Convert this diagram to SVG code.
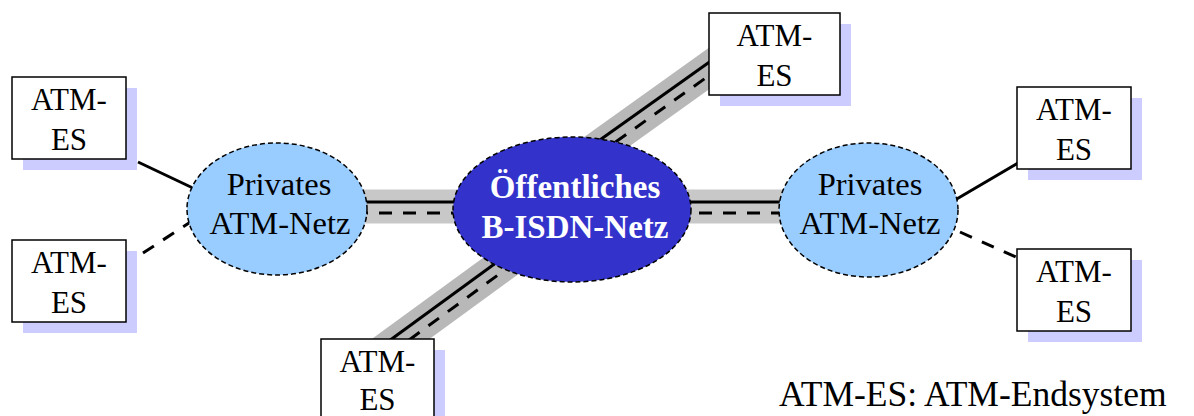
<svg xmlns="http://www.w3.org/2000/svg" width="1194" height="416" viewBox="0 0 1194 416">
<style>
.t{font-family:"Liberation Serif","Times New Roman",serif;font-size:31px;fill:#000;text-anchor:middle}
.nt{font-family:"Liberation Serif","Times New Roman",serif;font-size:32.5px;fill:#000;text-anchor:middle}
.bt{font-family:"Liberation Serif","Times New Roman",serif;font-size:33px;font-weight:bold;fill:#fff;text-anchor:middle}
.box{fill:#fff;stroke:#000;stroke-width:1.5}
.sh{fill:#ccccff}
.pn{fill:#99ccff;stroke:#000;stroke-width:1.5;stroke-dasharray:5 3}
.cn{fill:#3333cc;stroke:#000;stroke-width:1.5;stroke-dasharray:5 3}
.band{stroke:#c8c8c8;stroke-width:34;fill:none}
.bandd{stroke:#b8b8b8;stroke-width:34;fill:none}
.s{stroke:#000;stroke-width:3;fill:none}
.d{stroke:#000;stroke-width:3;fill:none;stroke-dasharray:13 11}
</style>
<g id="connectors">
<line class="band" x1="355" y1="206.5" x2="470" y2="206.5"/>
<line class="band" x1="675" y1="206.5" x2="790" y2="206.5"/>
<line class="bandd" x1="593" y1="151.5" x2="723" y2="58.5"/>
<line class="bandd" x1="513" y1="257" x2="378" y2="355.6"/>
<line class="s" x1="355" y1="202" x2="470" y2="202"/>
<line class="d" x1="355" y1="213" x2="470" y2="213"/>
<line class="s" x1="675" y1="202" x2="790" y2="202"/>
<line class="d" x1="675" y1="213" x2="790" y2="213"/>
<line class="s" x1="590" y1="147" x2="720" y2="54.5"/>
<line class="d" x1="596" y1="156" x2="726" y2="63.5"/>
<line class="s" x1="510" y1="252.6" x2="380" y2="347.5"/>
<line class="d" x1="516.5" y1="261.5" x2="386.5" y2="356.4"/>
<line class="s" x1="138" y1="162" x2="195" y2="189"/>
<line class="d" x1="143" y1="253" x2="192" y2="221"/>
<line class="s" x1="955" y1="200" x2="1018" y2="163"/>
<line class="d" x1="960" y1="232" x2="1018" y2="258"/>
</g>
<g id="private-left">
<ellipse class="pn" cx="277" cy="209" rx="90" ry="66"/>
<text class="nt" x="279" y="195">Privates</text>
<text class="nt" x="280" y="234">ATM-Netz</text>
</g>
<g id="public">
<ellipse class="cn" cx="572" cy="209.5" rx="119" ry="72.5"/>
<text class="bt" x="575" y="198">Öffentliches</text>
<text class="bt" x="575" y="238">B-ISDN-Netz</text>
</g>
<g id="private-right">
<ellipse class="pn" cx="868.5" cy="210" rx="89.5" ry="67"/>
<text class="nt" x="870" y="195">Privates</text>
<text class="nt" x="870" y="234">ATM-Netz</text>
</g>
<g id="es-left-top">
<rect class="sh" x="23" y="88" width="114" height="82"/>
<rect class="box" x="12" y="77" width="114" height="82"/>
<text class="t" x="69" y="110">ATM-</text>
<text class="t" x="69" y="150">ES</text>
</g>
<g id="es-left-bottom">
<rect class="sh" x="23" y="251" width="114" height="82"/>
<rect class="box" x="12" y="240" width="114" height="82"/>
<text class="t" x="69" y="273">ATM-</text>
<text class="t" x="69" y="313">ES</text>
</g>
<g id="es-top">
<rect class="sh" x="720" y="24" width="131" height="82"/>
<rect class="box" x="709" y="13" width="131" height="82"/>
<text class="t" x="774.5" y="46">ATM-</text>
<text class="t" x="774.5" y="86">ES</text>
</g>
<g id="es-bottom">
<rect class="sh" x="332" y="350" width="113" height="82"/>
<rect class="box" x="321" y="339" width="113" height="82"/>
<text class="t" x="377.5" y="372">ATM-</text>
<text class="t" x="377.5" y="410">ES</text>
</g>
<g id="es-right-top">
<rect class="sh" x="1028" y="98" width="114" height="82"/>
<rect class="box" x="1017" y="87" width="114" height="82"/>
<text class="t" x="1074" y="120">ATM-</text>
<text class="t" x="1074" y="160">ES</text>
</g>
<g id="es-right-bottom">
<rect class="sh" x="1028" y="260" width="114" height="82"/>
<rect class="box" x="1017" y="249" width="114" height="82"/>
<text class="t" x="1074" y="282">ATM-</text>
<text class="t" x="1074" y="322">ES</text>
</g>
<g id="legend">
<text x="779" y="406" style="font-family:'Liberation Serif','Times New Roman',serif;font-size:35.5px;fill:#000">ATM-ES: ATM-Endsystem</text>
</g>
</svg>
